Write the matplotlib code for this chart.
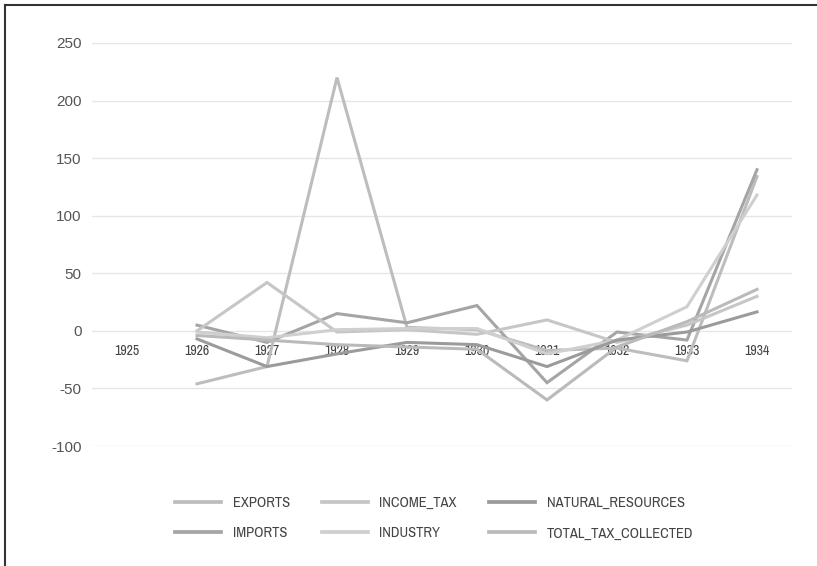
import matplotlib
matplotlib.use("Agg")
import matplotlib.pyplot as plt
from matplotlib.lines import Line2D

years = ["1925", "1926", "1927", "1928", "1929", "1930", "1931", "1932", "1933", "1934"]

exports = [None, -46, -31, 220, 3, 1, -17, -15, -26, 134]
imports = [None, 5, -10, 15, 7, 22, -45, -1, -8, 140]
income_tax = [None, 0, 42, -1, 1, -3, 9.5, -10, 5, 30]
industry = [None, -1, -6, 1, 2, 2, -20, -8, 21, 118]
natural_resources = [None, -7, -31, -20, -10, -12, -31, -8, -1, 16.5]
total_tax_collected = [None, -4, -8, -12, -14, -16, -60, -14, 8, 36]

series = [
    ("EXPORTS", exports, "#bdbdbd"),
    ("IMPORTS", imports, "#a5a5a5"),
    ("INCOME_TAX", income_tax, "#c6c6c6"),
    ("INDUSTRY", industry, "#cfcfcf"),
    ("NATURAL_RESOURCES", natural_resources, "#9b9b9b"),
    ("TOTAL_TAX_COLLECTED", total_tax_collected, "#bababa"),
]

y_ticks = [-100, -50, 0, 50, 100, 150, 200, 250]

SANS = ["Liberation Sans", "Arimo", "Roboto", "DejaVu Sans"]
NARROW = ["Liberation Sans Narrow", "Archivo Narrow", "Roboto Condensed", "DejaVu Sans"]

W, H = 817, 566
fig = plt.figure(figsize=(W / 100, H / 100), dpi=100)
ax = fig.add_axes([92 / W, 1 - 446 / H, 700 / W, 403 / H])

x = list(range(len(years)))
handles = []
for name, vals, color in series:
    xs = [i for i, v in zip(x, vals) if v is not None]
    ys = [v for v in vals if v is not None]
    ax.plot(xs, ys, color=color, lw=2.2, solid_joinstyle="miter", zorder=3)
    handles.append(Line2D([0], [0], color=color, lw=2.7, label=name))

ax.set_xlim(-0.5, len(years) - 0.5)
ax.set_ylim(-100, 250)
ax.set_yticks(y_ticks)
ax.set_yticklabels([str(t) for t in y_ticks], family=SANS,
                   fontsize=11, color="#555555")
ax.grid(axis="y", color="#e6e6e6", lw=1.0, zorder=0)
ax.set_axisbelow(True)
for s in ax.spines.values():
    s.set_visible(False)
ax.spines["bottom"].set_position(("data", 0))
ax.set_xticks(x)
ax.set_xticklabels(years, family=NARROW, fontsize=10, color="#444444")
ax.tick_params(axis="both", length=0)
ax.tick_params(axis="x", pad=9.5)
ax.tick_params(axis="y", pad=7.5)

leg = fig.legend(handles=handles, ncol=3, loc="center",
                 bbox_to_anchor=(434 / W, 1 - 518 / H), frameon=False,
                 prop={"family": NARROW, "size": 10.5},
                 handlelength=3.15, handletextpad=0.8, columnspacing=2.2,
                 labelspacing=1.15)
for t in leg.get_texts():
    t.set_color("#444444")

# frame edges along the top and left of the canvas
fig.add_artist(Line2D([5 / W, 1], [1 - 4.5 / H, 1 - 4.5 / H], color="#333333", lw=1.5,
                      transform=fig.transFigure))
fig.add_artist(Line2D([5 / W, 5 / W], [0, 1 - 4.5 / H], color="#333333", lw=1.5,
                      transform=fig.transFigure))

fig.savefig("out.png", dpi=100)
